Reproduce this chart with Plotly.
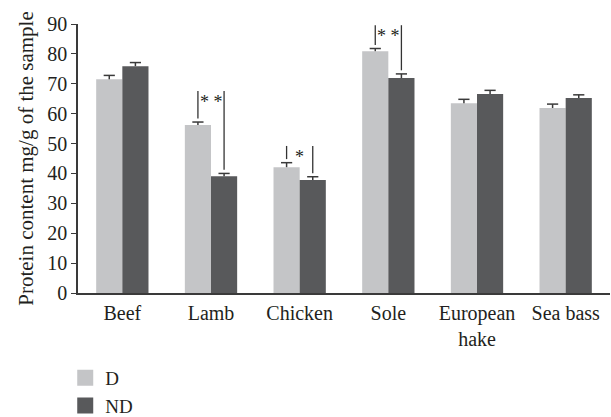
import plotly.graph_objects as go

# Protein content per food, two treatments (D / ND), mean with upper error bar
categories = ["Beef", "Lamb", "Chicken", "Sole", "European<br>hake", "Sea bass"]
d_values = [71.5, 56.2, 42.1, 80.9, 63.5, 61.9]
d_errors = [1.3, 1.0, 1.5, 0.9, 1.3, 1.3]
nd_values = [75.9, 39.1, 37.8, 71.9, 66.6, 65.2]
nd_errors = [1.2, 0.9, 1.1, 1.4, 1.2, 1.1]

# Significance markers between the two bars of a category
sig_index = [1, 2, 3]
sig_labels = ["* *", "*", "* *"]
sig_top = [67.6, 49.2, 89.6]

y_ticks = list(range(0, 91, 10))

FONT = "Liberation Serif"
TEXT = "#231f20"
AXIS = "#3a3a3a"
D_COLOR = "#c4c5c7"
ND_COLOR = "#58595b"
BARGAP = 0.41

x_pos = list(range(len(categories)))
half = (1 - BARGAP) / 4

fig = go.Figure()
for sign, name, vals, errs, color in [
    (-1, "D", d_values, d_errors, D_COLOR),
    (1, "ND", nd_values, nd_errors, ND_COLOR),
]:
    fig.add_trace(go.Bar(
        x=x_pos, y=vals, name=name, marker_color=color, marker_line_width=0,
        showlegend=False,
        error_y=dict(type="data", array=errs, arrayminus=[0] * len(errs),
                     symmetric=False, color=AXIS, thickness=1.5, width=0),
    ))
    # cap on top of each error bar
    fig.add_trace(go.Scatter(
        x=[i + sign * half for i in x_pos],
        y=[v + e for v, e in zip(vals, errs)],
        mode="markers", showlegend=False, hoverinfo="skip",
        marker=dict(symbol="line-ew", size=8,
                    line=dict(color=AXIS, width=1.5)),
    ))
    # legend swatch
    fig.add_trace(go.Scatter(
        x=[None], y=[None], mode="markers", name=name,
        marker=dict(symbol="square", size=16, color=color),
        legendgroup=name,
    ))

# bracket lines and stars
gap = 1.2
for idx, label, top in zip(sig_index, sig_labels, sig_top):
    xd = idx - half
    xn = idx + half
    fig.add_shape(type="line", x0=xd, x1=xd,
                  y0=d_values[idx] + d_errors[idx] + gap, y1=top,
                  line=dict(color="#333333", width=1.3))
    fig.add_shape(type="line", x0=xn, x1=xn,
                  y0=nd_values[idx] + nd_errors[idx] + gap, y1=top,
                  line=dict(color="#333333", width=1.3))
    fig.add_annotation(x=idx, y=top, text=label, showarrow=False,
                       yanchor="top", xanchor="center", yshift=1,
                       font=dict(family=FONT, size=18, color=TEXT))

fig.update_layout(
    width=611, height=417,
    margin=dict(l=78, r=1, t=24, b=124, autoexpand=False),
    barmode="group", bargap=BARGAP, bargroupgap=0,
    plot_bgcolor="white", paper_bgcolor="white",
    font=dict(family=FONT, size=20, color=TEXT),
    xaxis=dict(
        range=[-0.5, 5.5], tickmode="array", tickvals=x_pos, ticktext=categories,
        showline=True, linecolor=AXIS, linewidth=1.5, ticks="",
        showgrid=False, zeroline=False, tickfont=dict(size=20),
        ticklabelstandoff=1, automargin=False,
    ),
    yaxis=dict(
        range=[0, 90], tickmode="array", tickvals=y_ticks,
        showline=True, linecolor=AXIS, linewidth=1.5,
        ticks="outside", ticklen=5, tickcolor=AXIS, tickwidth=1.2,
        showgrid=False, zeroline=False, tickfont=dict(size=20),
        automargin=False,
        title=dict(text="Protein content mg/g of the sample",
                   font=dict(size=21), standoff=8),
    ),
    legend=dict(
        x=-0.024, xanchor="left", y=-0.245, yanchor="top",
        font=dict(family=FONT, size=19, color=TEXT),
        tracegroupgap=0, bgcolor="rgba(0,0,0,0)",
    ),
)

fig.write_html("out.html")
